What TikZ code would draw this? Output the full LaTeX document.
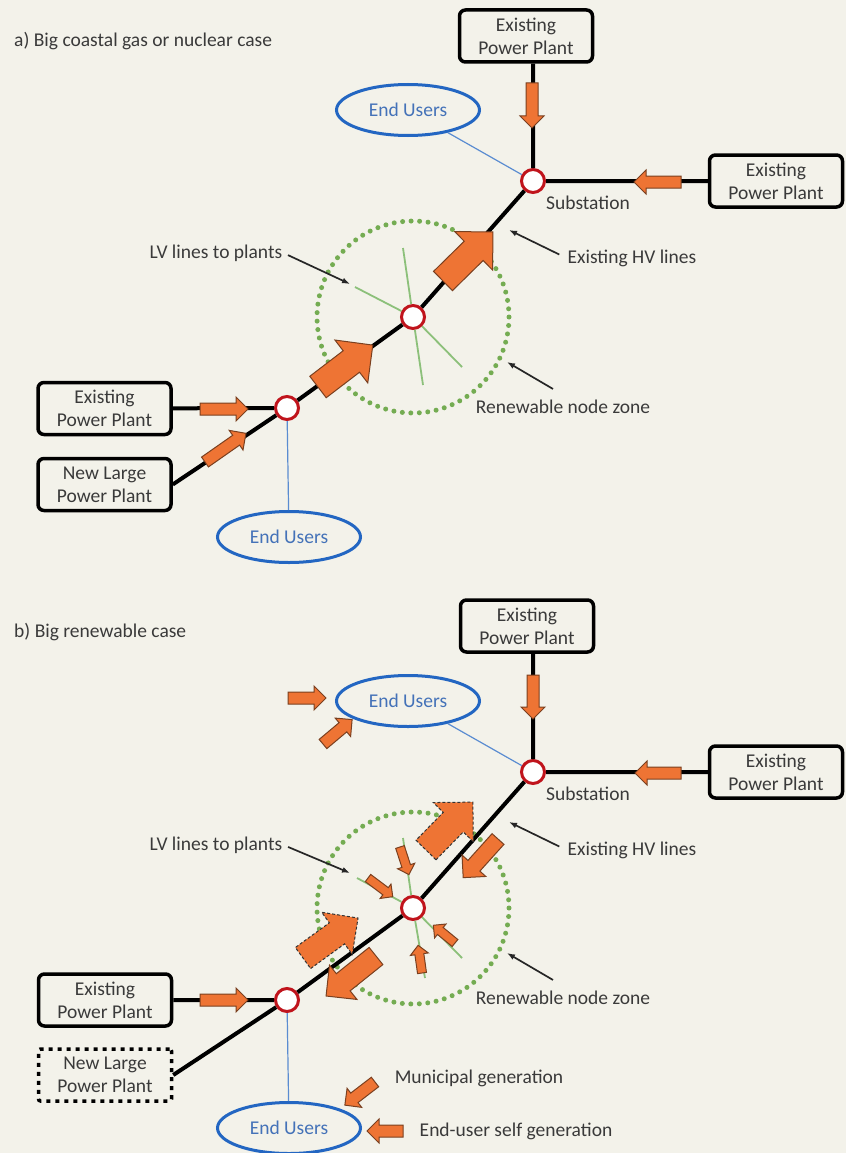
\documentclass[tikz,border=0pt]{standalone}
\usepackage{fontspec}
\setmainfont{Carlito}
\usetikzlibrary{positioning,shapes.geometric,arrows.meta,calc}

\definecolor{paper}{HTML}{F3F2EA}
\definecolor{flowor}{HTML}{EE7434}
\definecolor{flowedge}{HTML}{7A4020}
\definecolor{busred}{HTML}{C0141C}
\definecolor{userblue}{HTML}{2366C2}
\definecolor{usertext}{HTML}{4472B8}
\definecolor{zonegreen}{HTML}{74AC52}
\definecolor{lvgreen}{HTML}{8CC07A}
\definecolor{inkgray}{HTML}{3A3A3A}

\tikzset{
  every node/.style={font=\fontsize{19.5}{23}\selectfont, text=inkgray},
  note/.style={inner sep=1pt},
  plant/.style={draw=black, line width=3.5pt, rounded corners=6pt, minimum width=133pt,
    minimum height=52pt, align=center, inner sep=2pt},
  newplant/.style={plant, rounded corners=2pt, dash pattern=on 4pt off 5pt},
  enduser/.style={ellipse, draw=userblue, line width=3pt, minimum width=143pt,
    minimum height=51pt, text=usertext, inner sep=0pt},
  bus/.style={circle, draw=busred, fill=white, line width=3pt, minimum size=23pt, inner sep=0pt},
  hv/.style={line width=4pt, draw=black},
  feeder/.style={line width=1.2pt, draw=userblue!75},
  lv/.style={line width=1.8pt, draw=lvgreen},
  zone/.style={draw=zonegreen, line width=5pt, line cap=round, dash pattern=on 0pt off 8.5pt},
  callout/.style={line width=1.7pt, draw=black!85, -{Latex[length=8pt,width=6pt]}},
  flowline/.style={fill=flowor, draw=flowedge, line width=1pt, line join=miter},
  outflow/.style={dash pattern=on 3pt off 2pt, flowline/.append style={draw=black!80}},
  pics/flow/.style args={#1/#2}{code={
    \draw[flowline] (0,#1) -- ({#2-2*#1},#1) -- ({#2-2*#1},{2*#1}) -- (#2,0)
      -- ({#2-2*#1},{-2*#1}) -- ({#2-2*#1},-#1) -- (0,-#1) -- cycle;
  }},
}

\begin{document}
\begin{tikzpicture}[x=1pt, y=-1pt, >=Latex]
  \fill[paper] (0,0) rectangle (846,1153);
  \useasboundingbox (0,0) rectangle (846,1153);

  % a) big coastal gas or nuclear case
  \node[note, anchor=west] (titleA) at (13,41) {a) Big coastal gas or nuclear case};
  \node[plant] (topA) at (526,36) {Existing\\Power Plant};
  \node[plant] (eastA) at (776,181) {Existing\\Power Plant};
  \node[plant] (exA) at (104.5,408.5) {Existing\\Power Plant};
  \node[plant] (newA) at (104.5,484.5) {New Large\\Power Plant};
  \node[bus] (subA) at (533,181) {};
  \node[bus] (rnodeA) at (413,317) {};
  \node[bus] (lnodeA) at (287,408) {};
  \node[enduser] (euTopA) at (408,110) {End Users};
  \node[enduser] (euBotA) at (289,537) {End Users};
  \node[note, anchor=west] (subLabA) at (545,203) {Substation};
  \node[note] (lvlabA) at (216,253) {LV lines to plants};
  \node[note] (hvlabA) at (632,258) {Existing HV lines};
  \node[note] (zonelabA) at (563,407) {Renewable node zone};

  \coordinate (lvnA) at (403,248);
  \coordinate (lvsA) at (423,385);
  \coordinate (lvwA) at (355,287);
  \coordinate (lveA) at (462,367);
  \draw[zone] (rnodeA.center) circle[radius=96];
  \draw[lv] (lvnA) -- (rnodeA) (rnodeA) -- (lvsA) (lvwA) -- (rnodeA) (rnodeA) -- (lveA);

  \draw[hv] (topA.south -| subA) -- (subA) (eastA) -- (subA)
    (exA) -- (lnodeA) (newA.east) -- (lnodeA)
    (lnodeA) -- (rnodeA) (rnodeA) -- (subA);
  \draw[feeder] (euTopA) -- (subA) (lnodeA) -- (euBotA);

  \pic[rotate=-90] at (532,83) {flow=6/45};
  \pic[rotate=180] at (681,182) {flow=6/47};
  \pic at (200,409) {flow=6/48};
  \pic[rotate=35] at (205,462) {flow=6/50};
  \pic[rotate=44.5] at (443,281) {flow=13.5/70};
  \pic[rotate=37.4] at (318,387) {flow=13.5/69};

  \coordinate (lvtipA) at (350,284);
  \coordinate (hvtipA) at (509,230);
  \coordinate (zonetipA) at (507,362);
  \draw[callout, shorten <=5pt] (lvlabA.east) -- (lvtipA);
  \draw[callout, shorten <=8pt] (hvlabA.west) -- (hvtipA);
  \draw[callout] ([xshift=-10pt, yshift=10pt]zonelabA.north) -- (zonetipA);

  % b) big renewable case
  \node[note, anchor=west] (titleB) at (13,632) {b) Big renewable case};
  \node[plant] (topB) at (527,626) {Existing\\Power Plant};
  \node[plant] (eastB) at (776,772) {Existing\\Power Plant};
  \node[plant] (exB) at (105,1000) {Existing\\Power Plant};
  \node[newplant] (newB) at (105,1075) {New Large\\Power Plant};
  \node[bus] (subB) at (533,772) {};
  \node[bus] (rnodeB) at (413,908) {};
  \node[bus] (lnodeB) at (287,1000) {};
  \node[enduser] (euTopB) at (408,701) {End Users};
  \node[enduser] (euBotB) at (289,1128) {End Users};
  \node[note, anchor=west] (subLabB) at (545,794) {Substation};
  \node[note] (lvlabB) at (216,845) {LV lines to plants};
  \node[note] (hvlabB) at (632,850) {Existing HV lines};
  \node[note] (zonelabB) at (563,998) {Renewable node zone};
  \node[note] (munilab) at (479,1078) {Municipal generation};
  \node[note] (selflab) at (516,1131) {End-user self generation};

  \coordinate (lvnB) at (403,838);
  \coordinate (lvsB) at (425,978);
  \coordinate (lvwB) at (357,878);
  \coordinate (lveB) at (462,958);
  \draw[zone] (rnodeB.center) circle[radius=96];
  \draw[lv] (lvnB) -- (rnodeB) (rnodeB) -- (lvsB) (lvwB) -- (rnodeB) (rnodeB) -- (lveB);

  \draw[hv] (topB.south -| subB) -- (subB) (eastB) -- (subB)
    (exB) -- (lnodeB) (newB.east) -- (lnodeB)
    (lnodeB) -- (rnodeB) (rnodeB) -- (subB);
  \draw[feeder] (euTopB) -- (subB) (lnodeB) -- (euBotB);

  \pic[rotate=-90] at (533,675) {flow=6/44};
  \pic[rotate=180] at (681,773) {flow=6/46};
  \pic at (200,1000) {flow=6/48};
  \pic at (288,698) {flow=6/38};
  \pic[rotate=40] at (323,744) {flow=6/38};
  \pic[rotate=45.6, outflow] at (426,850) {flow=14/67};
  \pic[rotate=36, outflow] at (303,958) {flow=13/68};
  \pic[rotate=228] at (498,839) {flow=8/52};
  \pic[rotate=218.7] at (376,956) {flow=11/64};
  \pic[rotate=-72] at (400,847) {flow=4.5/29};
  \pic[rotate=-37] at (368,878) {flow=4.5/31};
  \pic[rotate=140.7] at (455,943) {flow=4.5/28};
  \pic[rotate=98] at (422,973) {flow=4.5/28};
  \pic[rotate=217.5] at (375,1082) {flow=6/38};
  \pic[rotate=180] at (403,1131) {flow=6/36};

  \coordinate (lvtipB) at (350,873);
  \coordinate (hvtipB) at (509,822);
  \coordinate (zonetipB) at (507,953);
  \draw[callout, shorten <=5pt] (lvlabB.east) -- (lvtipB);
  \draw[callout, shorten <=8pt] (hvlabB.west) -- (hvtipB);
  \draw[callout] ([xshift=-10pt, yshift=10pt]zonelabB.north) -- (zonetipB);
\end{tikzpicture}
\end{document}
